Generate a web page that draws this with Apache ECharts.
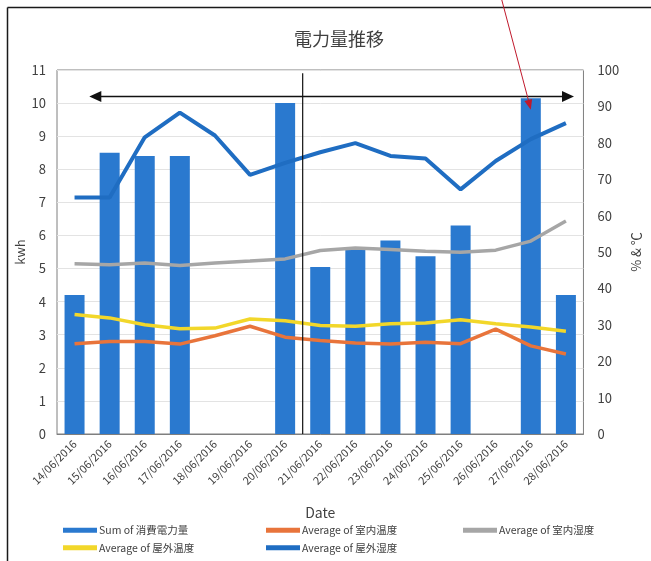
<!DOCTYPE html>
<html>
<head>
<meta charset="utf-8">
<script src="https://cdn.jsdelivr.net/npm/echarts@6/dist/echarts.min.js"></script>
<style>
  html, body { margin: 0; padding: 0; background: #ffffff; }
  #chart { width: 651px; height: 561px; }
</style>
</head>
<body>
<div id="chart"></div>
<script>
// Daily dates
const dates = [
  '14/06/2016', '15/06/2016', '16/06/2016', '17/06/2016', '18/06/2016',
  '19/06/2016', '20/06/2016', '21/06/2016', '22/06/2016', '23/06/2016',
  '24/06/2016', '25/06/2016', '26/06/2016', '27/06/2016', '28/06/2016'
];

// Sum of energy consumption (kwh), left axis
const energyKwh = [4.2, 8.5, 8.4, 8.4, null, null, 10.0, 5.05, 5.65, 5.85, 5.37, 6.3, null, 10.15, 4.2];

// Averages on the right axis (% and ℃)
const indoorTemp      = [24.8, 25.4, 25.4, 24.7, 27.0, 29.6, 26.6, 25.7, 25.0, 24.7, 25.2, 24.8, 28.8, 24.2, 22.0];
const indoorHumidity  = [46.8, 46.5, 47.0, 46.3, 47.0, 47.5, 48.1, 50.4, 51.1, 50.7, 50.2, 49.9, 50.5, 53.0, 58.5];
const outdoorTemp     = [32.8, 31.9, 30.0, 28.9, 29.1, 31.6, 31.1, 29.8, 29.6, 30.3, 30.5, 31.4, 30.3, 29.4, 28.2];
const outdoorHumidity = [65.0, 65.0, 81.5, 88.3, 82.0, 71.2, 74.5, 77.4, 79.9, 76.4, 75.7, 67.2, 75.0, 81.0, 85.4];

// Axis tick labels
const kwhTicks = [0, 1, 2, 3, 4, 5, 6, 7, 8, 9, 10, 11];
const pctTicks = [0, 10, 20, 30, 40, 50, 60, 70, 80, 90, 100];

// Series names
const names = {
  energy: 'Sum of 消費電力量',
  inTemp: 'Average of 室内温度',
  inHum: 'Average of 室内湿度',
  outTemp: 'Average of 屋外温度',
  outHum: 'Average of 屋外湿度'
};

// Annotation anchors (category index, kwh value)
const spanArrow = { from: 0.42, to: 14.23, kwh: 10.2 };
const dividerAt = { index: 6.5, top: 10.9 };
const pointerTip = { index: 13, kwh: 9.8 };

const FONT = "'Noto Sans CJK JP', 'Noto Sans', sans-serif";
const TEXT = '#404040';

const chart = echarts.init(document.getElementById('chart'), null, { renderer: 'canvas' });

const legendBase = {
  orient: 'vertical',
  top: 520,
  icon: 'rect',
  itemWidth: 34,
  itemHeight: 5,
  itemGap: 7,
  textStyle: { fontFamily: FONT, fontSize: 10.5, color: TEXT, padding: [0, 0, 0, -3] },
  selectedMode: false
};

const option = {
  backgroundColor: '#ffffff',
  animation: false,
  title: {
    text: '電力量推移',
    left: 334,
    top: 25,
    textAlign: 'center',
    textStyle: { fontFamily: FONT, fontSize: 18, fontWeight: 'normal', color: TEXT }
  },
  legend: [
    Object.assign({}, legendBase, { left: 58, data: [names.energy, names.outTemp] }),
    Object.assign({}, legendBase, { left: 261, data: [names.inTemp, names.outHum] }),
    Object.assign({}, legendBase, { left: 458, data: [names.inHum] })
  ],
  grid: {
    left: 57, top: 70, width: 533, height: 364,
    show: true, borderColor: '#7f7f7f', borderWidth: 1, backgroundColor: 'transparent'
  },
  xAxis: {
    type: 'category',
    data: dates,
    name: 'Date',
    nameLocation: 'middle',
    nameGap: 72,
    nameTextStyle: { fontFamily: FONT, fontSize: 14, color: TEXT },
    axisLine: { show: true, lineStyle: { color: '#7f7f7f' } },
    axisTick: { show: false },
    axisLabel: { rotate: 45, interval: 0, margin: 8, fontFamily: FONT, fontSize: 11, color: TEXT }
  },
  yAxis: [
    {
      type: 'value',
      min: kwhTicks[0],
      max: kwhTicks[kwhTicks.length - 1],
      interval: kwhTicks[1] - kwhTicks[0],
      name: 'kwh',
      nameLocation: 'middle',
      nameGap: 30,
      nameMoveOverlap: false,
      nameRotate: 90,
      nameTextStyle: { fontFamily: FONT, fontSize: 13, color: TEXT },
      axisLine: { show: false },
      axisTick: { show: false },
      axisLabel: { margin: 11, fontFamily: FONT, fontSize: 13, color: TEXT },
      splitLine: { show: true, lineStyle: { color: '#e3e3e3', width: 1 } }
    },
    {
      type: 'value',
      min: pctTicks[0],
      max: pctTicks[pctTicks.length - 1],
      interval: pctTicks[1] - pctTicks[0],
      name: '% & ℃',
      nameLocation: 'middle',
      nameGap: 46,
      nameRotate: 90,
      nameTextStyle: { fontFamily: FONT, fontSize: 13, color: TEXT },
      axisLine: { show: false },
      axisTick: { show: false },
      axisLabel: { margin: 14, fontFamily: FONT, fontSize: 13, color: TEXT },
      splitLine: { show: false }
    }
  ],
  series: [
    {
      name: names.energy, type: 'bar', yAxisIndex: 0, data: energyKwh,
      barWidth: 20, itemStyle: { color: '#2a79cf' }, z: 2
    },
    {
      name: names.inTemp, type: 'line', yAxisIndex: 1, data: indoorTemp,
      symbol: 'none', lineStyle: { color: '#e8743b', width: 3.5 }, itemStyle: { color: '#e8743b' }, z: 3
    },
    {
      name: names.inHum, type: 'line', yAxisIndex: 1, data: indoorHumidity,
      symbol: 'none', lineStyle: { color: '#a6a6a6', width: 3.5 }, itemStyle: { color: '#a6a6a6' }, z: 3
    },
    {
      name: names.outTemp, type: 'line', yAxisIndex: 1, data: outdoorTemp,
      symbol: 'none', lineStyle: { color: '#f2d72a', width: 3.5 }, itemStyle: { color: '#f2d72a' }, z: 3
    },
    {
      name: names.outHum, type: 'line', yAxisIndex: 1, data: outdoorHumidity,
      symbol: 'none', lineStyle: { color: '#1f6dc2', width: 4 }, itemStyle: { color: '#1f6dc2' }, z: 4
    }
  ]
};

chart.setOption(option);

// Pixel position of a fractional category index and a kwh value
function px(index, kwh) {
  const a = chart.convertToPixel({ xAxisIndex: 0, yAxisIndex: 0 }, [0, kwh]);
  const b = chart.convertToPixel({ xAxisIndex: 0, yAxisIndex: 0 }, [1, kwh]);
  return [a[0] + (b[0] - a[0]) * index, a[1]];
}

function arrowHead(tip, dx, dy, len, half, color) {
  const n = Math.hypot(dx, dy);
  const ux = dx / n, uy = dy / n;
  const bx = tip[0] - ux * len, by = tip[1] - uy * len;
  return {
    type: 'polygon',
    shape: { points: [tip, [bx - uy * half, by + ux * half], [bx + uy * half, by - ux * half]] },
    style: { fill: color },
    z: 20
  };
}

const sL = px(spanArrow.from, spanArrow.kwh);
const sR = px(spanArrow.to, spanArrow.kwh);
const dTop = px(dividerAt.index, dividerAt.top);
const dBot = px(dividerAt.index, 0);
const tip = px(pointerTip.index, pointerTip.kwh);
const pStart = [tip[0] - 29, 0];

chart.setOption({
  graphic: [
    // Outer frame
    { type: 'line', shape: { x1: 7.5, y1: 7.5, x2: 651, y2: 7.5 }, style: { stroke: '#1a1a1a', lineWidth: 1.5 }, z: 20 },
    { type: 'line', shape: { x1: 7.5, y1: 7.5, x2: 7.5, y2: 561 }, style: { stroke: '#1a1a1a', lineWidth: 1.5 }, z: 20 },
    // Divider between weeks
    { type: 'line', shape: { x1: dTop[0], y1: dTop[1], x2: dBot[0], y2: dBot[1] }, style: { stroke: '#111', lineWidth: 1.2 }, z: 20 },
    // Double-headed span arrow
    { type: 'line', shape: { x1: sL[0] + 8, y1: sL[1], x2: sR[0] - 8, y2: sR[1] }, style: { stroke: '#111', lineWidth: 1.6 }, z: 20 },
    arrowHead(sL, -1, 0, 12, 5.5, '#111'),
    arrowHead(sR, 1, 0, 12, 5.5, '#111'),
    // Red pointer to the tallest bar
    { type: 'line', shape: { x1: pStart[0], y1: pStart[1], x2: tip[0] - 2, y2: tip[1] - 8 }, style: { stroke: '#c0192c', lineWidth: 1 }, z: 20 },
    arrowHead(tip, tip[0] - pStart[0], tip[1] - pStart[1], 10, 4, '#c0192c')
  ]
});
</script>
</body>
</html>
